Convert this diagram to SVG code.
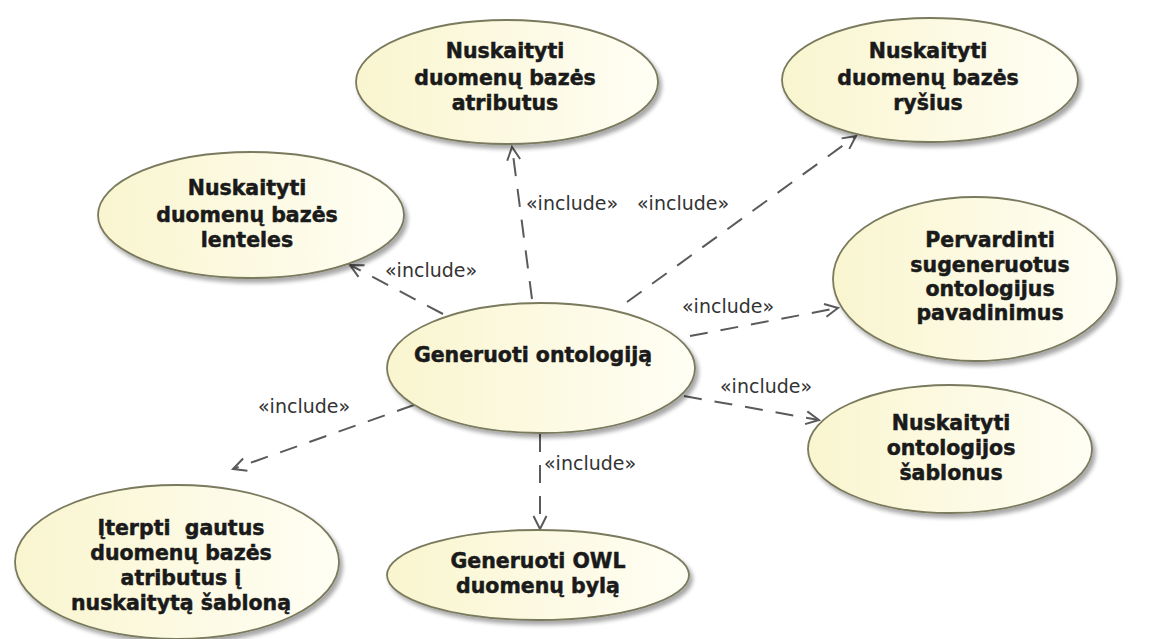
<svg xmlns="http://www.w3.org/2000/svg" width="1154" height="639" viewBox="0 0 1154 639">
  <style>
    .uc { fill: url(#ucFill); stroke: #7a7a5e; stroke-width: 1.8; filter: url(#shadow); }
    .lbl { font-family: "DejaVu Sans", "Liberation Sans", sans-serif; font-weight: bold; font-size: 20.5px; fill: #1a1a1a; stroke: #1a1a1a; stroke-width: 0.5; text-anchor: middle; white-space: pre; }
    .inc { font-family: "DejaVu Sans", "Liberation Sans", sans-serif; font-size: 19px; fill: #333333; }
    .dep { fill: none; stroke: #5a5a5a; stroke-width: 2; stroke-dasharray: 18 13; marker-end: url(#open); }
  </style>
  <defs>
    <linearGradient id="ucFill" x1="0" y1="0" x2="1" y2="0">
      <stop offset="0" stop-color="#f9f5cf"/>
      <stop offset="1" stop-color="#fffef4"/>
    </linearGradient>
    <filter id="shadow" x="-10%" y="-10%" width="125%" height="135%">
      <feGaussianBlur in="SourceAlpha" stdDeviation="2"/>
      <feOffset dx="3" dy="4" result="b"/>
      <feComponentTransfer><feFuncA type="linear" slope="0.35"/></feComponentTransfer>
      <feMerge><feMergeNode/><feMergeNode in="SourceGraphic"/></feMerge>
    </filter>
    <marker id="open" viewBox="-15 -9 17 18" markerWidth="17" markerHeight="18" refX="0" refY="0" orient="auto" markerUnits="userSpaceOnUse">
      <path d="M-13,-6.5 L0,0 L-13,6.5" fill="none" stroke="#5a5a5a" stroke-width="2" stroke-dasharray="none"/>
    </marker>
  </defs>

  <rect width="1154" height="639" fill="#ffffff"/>

  <!-- include dependencies -->
  <g id="connectors">
    <line class="dep" x1="532" y1="299" x2="512" y2="147"/>
    <line class="dep" x1="627" y1="302" x2="856" y2="136"/>
    <line class="dep" x1="443" y1="314" x2="350" y2="265"/>
    <line class="dep" x1="690" y1="336" x2="838" y2="308"/>
    <line class="dep" x1="684" y1="396" x2="819" y2="420"/>
    <line class="dep" x1="414" y1="405" x2="233" y2="469"/>
    <line class="dep" x1="540" y1="434" x2="540" y2="529"/>
    <text class="inc" x="526" y="210">«include»</text>
    <text class="inc" x="637" y="210">«include»</text>
    <text class="inc" x="385" y="277">«include»</text>
    <text class="inc" x="682" y="313">«include»</text>
    <text class="inc" x="720" y="393">«include»</text>
    <text class="inc" x="258" y="413">«include»</text>
    <text class="inc" x="544" y="470">«include»</text>
  </g>

  <g id="uc-atributai">
    <ellipse class="uc" cx="507" cy="82" rx="151" ry="62"/>
    <text class="lbl" x="505" y="58">Nuskaityti</text>
    <text class="lbl" x="505" y="85">duomenų bazės</text>
    <text class="lbl" x="505" y="110">atributus</text>
  </g>

  <g id="uc-rysiai">
    <ellipse class="uc" cx="930" cy="80" rx="148" ry="62"/>
    <text class="lbl" x="928" y="58">Nuskaityti</text>
    <text class="lbl" x="928" y="85">duomenų bazės</text>
    <text class="lbl" x="928" y="110">ryšius</text>
  </g>

  <g id="uc-lenteles">
    <ellipse class="uc" cx="251" cy="215" rx="153" ry="63"/>
    <text class="lbl" x="247" y="195">Nuskaityti</text>
    <text class="lbl" x="247" y="222">duomenų bazės</text>
    <text class="lbl" x="247" y="247">lenteles</text>
  </g>

  <g id="uc-pervardinti">
    <ellipse class="uc" cx="975" cy="279" rx="142" ry="82"/>
    <text class="lbl" x="990" y="247">Pervardinti</text>
    <text class="lbl" x="990" y="272">sugeneruotus</text>
    <text class="lbl" x="990" y="296">ontologijus</text>
    <text class="lbl" x="990" y="320">pavadinimus</text>
  </g>

  <g id="uc-generuoti">
    <ellipse class="uc" cx="541" cy="368" rx="154" ry="65"/>
    <text class="lbl" x="533" y="362">Generuoti ontologiją</text>
  </g>

  <g id="uc-sablonai">
    <ellipse class="uc" cx="950" cy="449" rx="142" ry="64"/>
    <text class="lbl" x="951" y="430">Nuskaityti</text>
    <text class="lbl" x="951" y="455">ontologijos</text>
    <text class="lbl" x="951" y="480">šablonus</text>
  </g>

  <g id="uc-iterpti">
    <ellipse class="uc" cx="177" cy="562" rx="162" ry="77"/>
    <text class="lbl" x="181" y="535">Įterpti  gautus</text>
    <text class="lbl" x="181" y="560">duomenų bazės</text>
    <text class="lbl" x="181" y="585">atributus į</text>
    <text class="lbl" x="181" y="610">nuskaitytą šabloną</text>
  </g>

  <g id="uc-owl">
    <ellipse class="uc" cx="538" cy="575" rx="151" ry="45"/>
    <text class="lbl" x="538" y="568">Generuoti OWL</text>
    <text class="lbl" x="538" y="593">duomenų bylą</text>
  </g>
</svg>
